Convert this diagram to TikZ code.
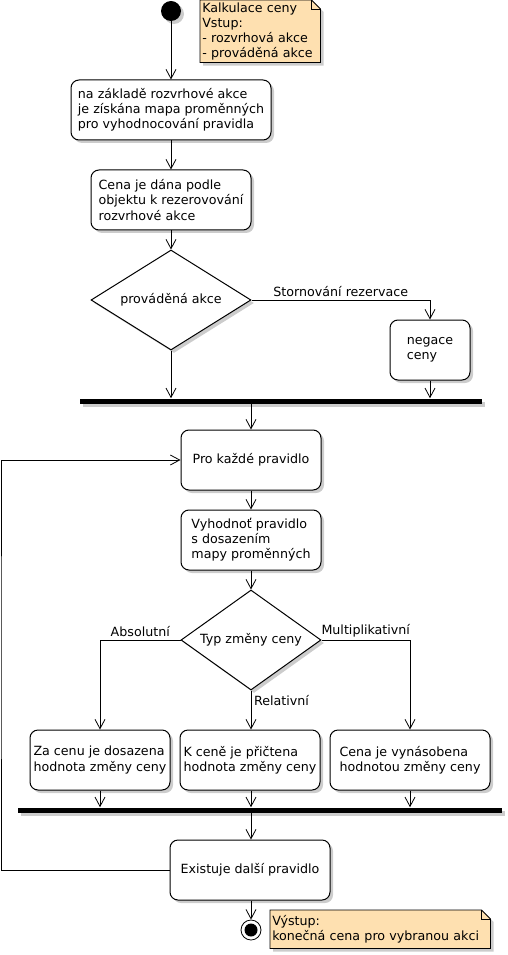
\documentclass[tikz,border=0pt]{standalone}
\usepackage{fontspec}
\setmainfont{DejaVu Sans}
\usepackage{tikz}
\usetikzlibrary{shapes.geometric,arrows.meta,shadows,calc}
\definecolor{notepeach}{RGB}{254,224,176}
\definecolor{shadowgray}{RGB}{204,204,204}
\newcommand{\pxu}{0.75pt}
\pgfdeclarelayer{bg}
\pgfsetlayers{bg,main}

% note with folded corner, drawn behind its text node
\newcommand{\notebg}[1]{%
\begin{pgfonlayer}{bg}
\fill[shadowgray] ($(#1.north west)+(3,3)$) -- ($(#1.north east)+(-6,3)$)
  -- ($(#1.north east)+(3,12)$) -- ($(#1.south east)+(3,3)$)
  -- ($(#1.south west)+(3,3)$) -- cycle;
\draw[notebox] (#1.north west) -- ($(#1.north east)+(-9,0)$)
  -- ($(#1.north east)+(0,9)$) -- (#1.south east) -- (#1.south west) -- cycle;
\draw[notebox, fill=none] ($(#1.north east)+(-9,0)$) |- ($(#1.north east)+(0,9)$);
\end{pgfonlayer}}

\tikzset{
  shadowed/.style={drop shadow={shadow xshift=3*\pxu, shadow yshift=-3*\pxu,
    fill=shadowgray, opacity=1}},
  act/.style={draw, fill=white, rounded corners=8*\pxu, align=left,
    inner sep=0pt, line width=0.75pt, shadowed},
  decision/.style={draw, fill=white, diamond, inner sep=0pt,
    line width=0.75pt, shadowed},
  bar/.style={fill=black, inner sep=0pt, minimum height=5*\pxu, shadowed},
  flow/.style={-{Straight Barb[length=7pt,width=7.5pt]}, line width=0.6pt},
  guard/.style={inner sep=2pt},
  notetext/.style={align=left, inner sep=2*\pxu, anchor=north west},
  notebox/.style={draw, fill=notepeach, line width=0.6pt},
}

\begin{document}
\begin{tikzpicture}[x=0.75pt, y=-0.75pt, font=\fontsize{9.5}{11.3}\selectfont]
\useasboundingbox (0,0) rectangle (507,955);

% Start and input note
\node[circle, fill=black, minimum size=20*\pxu, inner sep=0pt, shadowed] (start) at (171,11) {};
\node[notetext, text width=116*\pxu, minimum height=62*\pxu] (note1) at (200,0)
  {Kalkulace ceny\\Vstup:\\- rozvrhová akce\\- prováděná akce};
\notebg{note1}

% Preparation
\node[act, minimum width=200*\pxu, minimum height=60*\pxu] (act1) at (171,110)
  {na základě rozvrhové akce\\je získána mapa proměnných\\pro vyhodnocování pravidla};
\node[act, minimum width=160*\pxu, minimum height=60*\pxu] (act2) at (171,200)
  {Cena je dána podle\\objektu k rezerovování\\rozvrhové akce};
\node[decision, aspect=1.6, minimum width=160*\pxu, minimum height=100*\pxu] (dec1) at (171,300)
  {prováděná akce};
\node[act, minimum width=80*\pxu, minimum height=60*\pxu] (neg) at (430,350)
  {negace\\ceny};
\node[bar, minimum width=402*\pxu] (bar1) at (281,401) {};

% Rule loop
\node[act, minimum width=140*\pxu, minimum height=60*\pxu] (each) at (251,460)
  {Pro každé pravidlo};
\node[act, minimum width=140*\pxu, minimum height=60*\pxu] (eval) at (251,540)
  {Vyhodnoť pravidlo\\s dosazením\\mapy proměnných};
\node[decision, aspect=1.4, minimum width=140*\pxu, minimum height=100*\pxu] (dec2) at (251,640)
  {Typ změny ceny};
\node[act, minimum width=140*\pxu, minimum height=60*\pxu] (abs) at (100,760)
  {Za cenu je dosazena\\hodnota změny ceny};
\node[act, minimum width=140*\pxu, minimum height=60*\pxu] (rel) at (250,760)
  {K ceně je přičtena\\hodnota změny ceny};
\node[act, minimum width=160*\pxu, minimum height=60*\pxu] (mul) at (410,760)
  {Cena je vynásobena\\hodnotou změny ceny};
\node[bar, minimum width=484*\pxu] (bar2) at (260,810) {};
\node[act, minimum width=160*\pxu, minimum height=60*\pxu] (next) at (250,870)
  {Existuje další pravidlo};
\coordinate (loop) at (1,650);

% End and output note
\node[circle, draw, fill=white, line width=0.6pt, minimum size=20*\pxu, inner sep=0pt] (stop) at (251,930) {};
\node[circle, fill=black, minimum size=13*\pxu, inner sep=0pt] (stopdot) at (stop) {};
\node[notetext, text width=216*\pxu, minimum height=38*\pxu] (note2) at (270,910)
  {Výstup:\\konečná cena pro vybranou akci};
\notebg{note2}

% Connectors
\draw[flow] (start) -- (act1);
\draw[flow] (act1) -- (act2);
\draw[flow] (act2) -- (dec1);
\draw[flow] (dec1.east) -| node[guard, pos=0.25, above] {Stornování rezervace} (neg.north);
\draw[flow] (dec1.south) -- (dec1.south |- bar1.north);
\draw[flow] (neg.south) -- (neg.south |- bar1.north);
\draw[flow] (each.north |- bar1.south) -- (each.north);
\draw[flow] (each) -- (eval);
\draw[flow] (eval) -- (dec2);
\draw[flow] (dec2.west) -| node[guard, pos=0.25, above] {Absolutní} (abs.north);
\draw[flow] (dec2.south) -- node[guard, pos=0.25, right] {Relativní} (dec2.south |- rel.north);
\draw[flow] (dec2.east) -| node[guard, pos=0.25, above] {Multiplikativní} (mul.north);
\draw[flow] (abs.south) -- (abs.south |- bar2.north);
\draw[flow] (dec2.south |- rel.south) -- (dec2.south |- bar2.north);
\draw[flow] (mul.south) -- (mul.south |- bar2.north);
\draw[flow] (dec2.south |- bar2.south) -- (dec2.south |- next.north);
\draw[flow] (next.west) -| (loop) |- (each.west);
\draw[flow] (dec2.south |- next.south) -- (stop);

\end{tikzpicture}
\end{document}
